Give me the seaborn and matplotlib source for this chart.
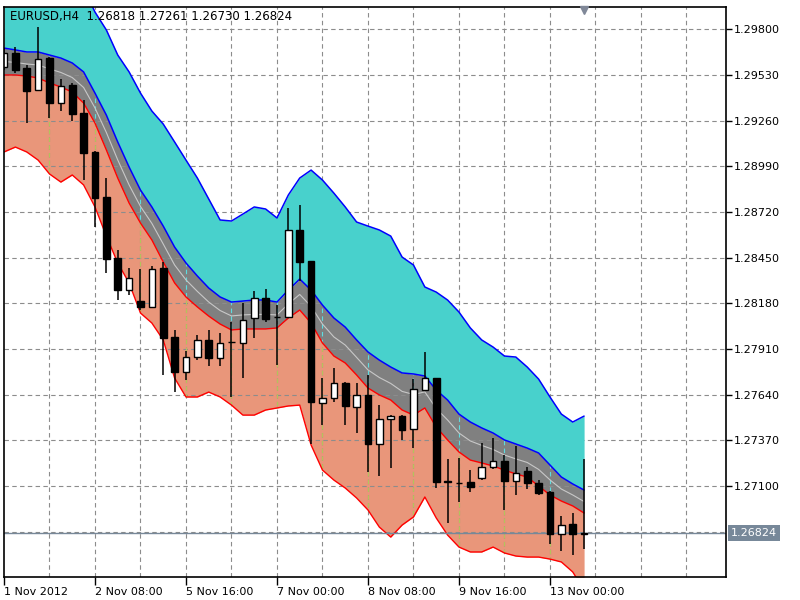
import numpy as np
import pandas as pd
import matplotlib
matplotlib.use("Agg")
import matplotlib.pyplot as plt
import seaborn as sns
from matplotlib.transforms import blended_transform_factory

# ---------------- data (EURUSD H4, 1 Nov 2012 00:00 .. 13 Nov 2012 12:00) ----------------
open_ = [1.29577, 1.29660, 1.29571, 1.29441, 1.29630, 1.29364, 1.29471, 1.29305, 1.29075, 1.28809,
         1.28448, 1.28259, 1.28194, 1.28159, 1.28389, 1.27982, 1.27775, 1.27863, 1.27964, 1.27857,
         1.27952, 1.27946, 1.28094, 1.28212, 1.28100, 1.28100, 1.28614, 1.28431, 1.27591, 1.27621,
         1.27710, 1.27568, 1.27639, 1.27349, 1.27497, 1.27515, 1.27438, 1.27668, 1.27739, 1.27128,
         1.27119, 1.27125, 1.27148, 1.27213, 1.27249, 1.27131, 1.27190, 1.27119, 1.27065, 1.26817,
         1.26876, 1.26818]
high = [1.29690, 1.29695, 1.29589, 1.29814, 1.29636, 1.29506, 1.29483, 1.29382, 1.29081, 1.28921,
        1.28496, 1.28389, 1.28383, 1.28401, 1.28425, 1.28023, 1.27899, 1.27993, 1.28023, 1.28005,
        1.28070, 1.28182, 1.28253, 1.28265, 1.28171, 1.28744, 1.28762, 1.28431, 1.27739, 1.27798,
        1.27716, 1.27710, 1.27757, 1.27580, 1.27521, 1.27521, 1.27733, 1.27893, 1.27739, 1.27261,
        1.27266, 1.27196, 1.27355, 1.27385, 1.27284, 1.27337, 1.27213, 1.27136, 1.27071, 1.26924,
        1.26941, 1.27261]
low = [1.29559, 1.29542, 1.29246, 1.29435, 1.29276, 1.29317, 1.29258, 1.28909, 1.28632, 1.28360,
       1.28200, 1.28230, 1.28141, 1.28153, 1.27757, 1.27656, 1.27727, 1.27846, 1.27810, 1.27810,
       1.27627, 1.27739, 1.27976, 1.28070, 1.27816, 1.28094, 1.28313, 1.27349, 1.27461, 1.27597,
       1.27461, 1.27414, 1.27184, 1.27160, 1.27207, 1.27373, 1.27325, 1.27662, 1.27089, 1.26882,
       1.27006, 1.27065, 1.27136, 1.27201, 1.26959, 1.27048, 1.27083, 1.27048, 1.26758, 1.26717,
       1.26693, 1.26730]
close = [1.29660, 1.29559, 1.29435, 1.29624, 1.29364, 1.29465, 1.29299, 1.29069, 1.28803, 1.28442,
         1.28259, 1.28330, 1.28159, 1.28383, 1.27976, 1.27775, 1.27863, 1.27964, 1.27857, 1.27946,
         1.27950, 1.28082, 1.28212, 1.28088, 1.28097, 1.28614, 1.28425, 1.27597, 1.27621, 1.27710,
         1.27574, 1.27639, 1.27349, 1.27497, 1.27515, 1.27432, 1.27674, 1.27739, 1.27125, 1.27125,
         1.27116, 1.27095, 1.27213, 1.27249, 1.27131, 1.27178, 1.27119, 1.27060, 1.26817, 1.26870,
         1.26817, 1.26824]

band_upper = [1.30239, 1.30239, 1.30233, 1.30221, 1.30203, 1.30174, 1.30121, 1.30044, 1.29902, 1.29796,
              1.29648, 1.29548, 1.29423, 1.29317, 1.29240, 1.29134, 1.29027, 1.28921, 1.28797, 1.28673,
              1.28667, 1.28708, 1.28750, 1.28738, 1.28685, 1.28821, 1.28921, 1.28968, 1.28909, 1.28832,
              1.28750, 1.28661, 1.28637, 1.28614, 1.28578, 1.28454, 1.28407, 1.28277, 1.28247, 1.28200,
              1.28129, 1.28035, 1.27964, 1.27922, 1.27869, 1.27863, 1.27804, 1.27733, 1.27627, 1.27526,
              1.27479, 1.27514]
band_top = [1.29689, 1.29678, 1.29666, 1.29666, 1.29648, 1.29630, 1.29601, 1.29548, 1.29423, 1.29293,
            1.29134, 1.28986, 1.28850, 1.28750, 1.28637, 1.28513, 1.28419, 1.28342, 1.28271, 1.28218,
            1.28188, 1.28194, 1.28200, 1.28200, 1.28188, 1.28259, 1.28324, 1.28259, 1.28170, 1.28094,
            1.28040, 1.27964, 1.27893, 1.27845, 1.27804, 1.27769, 1.27763, 1.27751, 1.27668, 1.27609,
            1.27526, 1.27479, 1.27444, 1.27414, 1.27373, 1.27349, 1.27325, 1.27296, 1.27225, 1.27154,
            1.27113, 1.27077]
band_mid = [1.29610, 1.29604, 1.29595, 1.29589, 1.29566, 1.29545, 1.29515, 1.29456, 1.29335, 1.29190,
            1.29028, 1.28880, 1.28753, 1.28653, 1.28531, 1.28407, 1.28319, 1.28251, 1.28188, 1.28138,
            1.28106, 1.28112, 1.28115, 1.28115, 1.28112, 1.28177, 1.28233, 1.28162, 1.28058, 1.27982,
            1.27934, 1.27861, 1.27787, 1.27742, 1.27707, 1.27660, 1.27642, 1.27657, 1.27559, 1.27491,
            1.27414, 1.27367, 1.27341, 1.27317, 1.27284, 1.27261, 1.27240, 1.27199, 1.27137, 1.27083,
            1.27048, 1.27009]
band_bottom = [1.29530, 1.29530, 1.29524, 1.29512, 1.29483, 1.29459, 1.29429, 1.29364, 1.29246, 1.29087,
               1.28921, 1.28773, 1.28655, 1.28555, 1.28425, 1.28301, 1.28218, 1.28159, 1.28105, 1.28058,
               1.28023, 1.28029, 1.28029, 1.28029, 1.28035, 1.28094, 1.28141, 1.28064, 1.27946, 1.27869,
               1.27828, 1.27757, 1.27680, 1.27639, 1.27609, 1.27550, 1.27520, 1.27562, 1.27449, 1.27373,
               1.27302, 1.27254, 1.27237, 1.27219, 1.27195, 1.27172, 1.27154, 1.27101, 1.27048, 1.27012,
               1.26983, 1.26941]
band_lower = [1.29075, 1.29104, 1.29075, 1.29027, 1.28945, 1.28897, 1.28939, 1.28880, 1.28750, 1.28578,
              1.28419, 1.28301, 1.28123, 1.28064, 1.27964, 1.27739, 1.27627, 1.27627, 1.27656, 1.27627,
              1.27579, 1.27520, 1.27520, 1.27550, 1.27562, 1.27574, 1.27579, 1.27343, 1.27195, 1.27136,
              1.27089, 1.27030, 1.26959, 1.26858, 1.26799, 1.26870, 1.26918, 1.27036, 1.26912, 1.26811,
              1.26740, 1.26711, 1.26711, 1.26740, 1.26705, 1.26687, 1.26681, 1.26681, 1.26669, 1.26652,
              1.26593, 1.26486]

time_labels = ["1 Nov 2012", "2 Nov 08:00", "5 Nov 16:00", "7 Nov 00:00",
               "8 Nov 08:00", "9 Nov 16:00", "13 Nov 00:00"]
price_ticks = [1.29800, 1.29530, 1.29260, 1.28990, 1.28720, 1.28450,
               1.28180, 1.27910, 1.27640, 1.27370, 1.27100]
hidden_grid_price = 1.26830
last_price = 1.26824
title_text = "EURUSD,H4  1.26818 1.27261 1.26730 1.26824"

# ---------------- styling ----------------
sns.set_theme(style="white")
plt.rcParams['font.family'] = ['DejaVu Sans']

CYAN = "#48D1CC"
GREY = "#808080"
SALMON = "#E9967A"
BLUE = "#0000FF"
RED = "#FF0000"
SILVER = "#C8C8C8"
GRID = "#8C8C8C"
GRID_ON_SALMON = "#B4C45A"
GRID_ON_GREY = "#5EDCE0"
SLATE = "#778899"

n = len(close)
df = pd.DataFrame({
    "bar": np.arange(n),
    "open": open_, "high": high, "low": low, "close": close,
    "upper": band_upper, "top": band_top, "mid": band_mid,
    "bottom": band_bottom, "lower": band_lower,
})

W, H = 800, 600
fig = plt.figure(figsize=(8, 6), dpi=100)
fig.patch.set_facecolor("white")
ax = fig.add_axes([3.5 / W, 23 / H, (725.7 - 3.5) / W, 570 / H])
ax.set_facecolor("white")
ax.grid(False)

# band fills
salmon_poly = ax.fill_between(df["bar"], df["bottom"], df["lower"], color=SALMON, lw=0, zorder=1)
grey_poly = ax.fill_between(df["bar"], df["top"], df["bottom"], color=GREY, lw=0, zorder=1)
ax.fill_between(df["bar"], df["upper"], df["top"], color=CYAN, lw=0, zorder=2)

# grid (under the cyan band, over the salmon/grey bands)
dash = (0, (4, 3))
grid_kw = dict(linestyle=dash, lw=0.8, zorder=1.5)
for p in price_ticks + [hidden_grid_price]:
    ax.axhline(p, color=GRID, **grid_kw)
for b in range(4, 64, 4):
    ax.axvline(b, color=GRID, **grid_kw)
    # terminal-style tinted grid where it crosses the filled bands
    ln1 = ax.axvline(b, color=GRID_ON_SALMON, linestyle=dash, lw=0.8, zorder=1.6)
    ln1.set_clip_path(salmon_poly.get_paths()[0], ax.transData)
    ln2 = ax.axvline(b, color=GRID_ON_GREY, linestyle=dash, lw=0.8, zorder=1.6)
    ln2.set_clip_path(grey_poly.get_paths()[0], ax.transData)

# band lines
for col, colr, lw in [("upper", BLUE, 1.1), ("top", BLUE, 1.1), ("mid", SILVER, 0.8),
                      ("bottom", RED, 1.0), ("lower", RED, 1.0)]:
    sns.lineplot(data=df, x="bar", y=col, color=colr, lw=lw, ax=ax,
                 estimator=None, legend=False, zorder=3)

# current price line
ax.axhline(last_price, color=SLATE, lw=1.0, zorder=3.5)

# candles
bull = df["close"] >= df["open"]
body_bottom = np.minimum(df["open"], df["close"])
body_height = np.abs(df["close"] - df["open"])
ax.vlines(df["bar"], df["low"], df["high"], color="black", lw=1.1, zorder=4)
ax.bar(df["bar"], body_height, bottom=body_bottom, width=0.58,
       color=np.where(bull, "white", "black"), edgecolor="black", lw=1.0, zorder=5)

# axes limits / ticks
ax.set_xlim(-0.044, 63.45)
ax.set_ylim(1.265631, 1.299318)
ax.set_xlabel("")
ax.set_ylabel("")

ax.yaxis.tick_right()
ax.set_yticks(price_ticks)
ax.set_yticklabels([f"{p:.5f}" for p in price_ticks])
ax.tick_params(axis="y", which="major", direction="out", length=4, width=1,
               pad=2, labelsize=8, colors="black", right=True, left=False)

ax.set_xticks(np.arange(0, 8 * len(time_labels), 8))
ax.set_xticklabels(time_labels)
ax.tick_params(axis="x", which="major", direction="out", length=6, width=1,
               pad=1, labelsize=8, colors="black", bottom=True)
for lab in ax.get_xticklabels():
    lab.set_ha("left")

for sp in ax.spines.values():
    sp.set_visible(True)
    sp.set_color("black")
    sp.set_linewidth(1.2)
    sp.set_zorder(8)

# current price label on the right axis
tr = blended_transform_factory(ax.transAxes, ax.transData)
ax.text(1.0 + 5 / 722, last_price, "1.26824", transform=tr, ha="left", va="center",
        color="white", fontsize=8, zorder=10, clip_on=False,
        bbox=dict(boxstyle="square,pad=0.25", fc=SLATE, ec="none"))

# chart-shift marker at the top
trx = blended_transform_factory(ax.transData, ax.transAxes)
ax.plot([n - 1], [1 - 3 / 570], marker="v", color="#808898", ms=6,
        transform=trx, clip_on=False, zorder=10, ls="none")

# title
ax.text(6.5 / 722, 1 - 9.5 / 570, title_text, transform=ax.transAxes,
        ha="left", va="center", fontsize=8.5, color="black", zorder=10)

fig.savefig("out.png", dpi=100)
